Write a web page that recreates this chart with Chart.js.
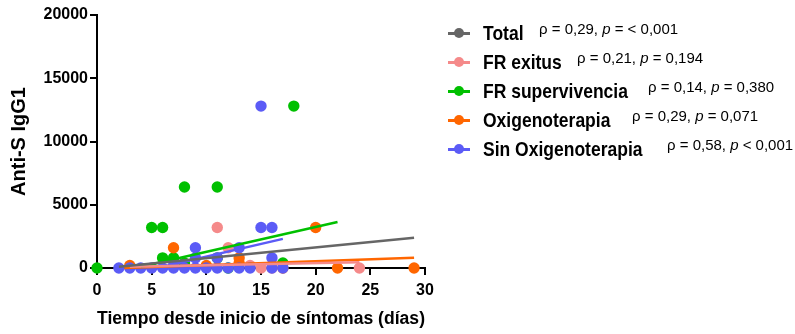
<!DOCTYPE html>
<html>
<head>
<meta charset="utf-8">
<script src="https://cdn.jsdelivr.net/npm/chart.js@4.4.1/dist/chart.umd.min.js"></script>
<style>
  html, body { margin: 0; padding: 0; background: #fff; }
  #wrap { position: relative; width: 795px; height: 334px; overflow: hidden; }
  #c { position: absolute; left: 0; top: 0; }
  .sym-line { position: absolute; height: 3px; width: 22px; }
  .sym-dot { position: absolute; width: 10px; height: 10px; border-radius: 50%; }
  .lab { position: absolute; font-family: 'Liberation Sans', Arial, sans-serif; font-weight: bold; font-size: 17.5px; line-height: 1; color: #000; white-space: nowrap; transform: scaleY(1.15); transform-origin: 0 50%; }
  .stat { position: absolute; font-family: 'Liberation Sans', Arial, sans-serif; font-size: 15px; line-height: 1; color: #000; white-space: nowrap; }
</style>
</head>
<body>
<div id="wrap">
  <canvas id="c" width="795" height="334"></canvas>
  <div id="legend"></div>
</div>
<script>
// ---- Data ----
const seriesNames = ['Total', 'FR exitus', 'FR supervivencia', 'Oxigenoterapia', 'Sin Oxigenoterapia'];
const seriesStats = [
  'ρ = 0,29, <i>p</i> = &lt; 0,001',
  'ρ = 0,21, <i>p</i> = 0,194',
  'ρ = 0,14, <i>p</i> = 0,380',
  'ρ = 0,29, <i>p</i> = 0,071',
  'ρ = 0,58, <i>p</i> &lt; 0,001'
];
const seriesColors = ['#666666', '#F58A8A', '#00C000', '#FF6600', '#5B5BF6'];

const exitusX = [11, 12, 14, 15, 16, 24];
const exitusY = [3200, 1600, 200, 0, 0, 0];

const superX = [0, 5, 6, 6, 7, 8, 8, 11, 11, 12, 17, 18];
const superY = [0, 3200, 3200, 800, 800, 400, 6400, 6400, 800, 0, 400, 12800];

const oxiX = [3, 7, 10, 13, 13, 17, 20, 22, 29];
const oxiY = [200, 1600, 200, 800, 400, 0, 3200, 0, 0];

const sinX = [2, 3, 4, 5, 6, 7, 7, 8, 9, 9, 9, 10, 11, 11, 12, 13, 13, 14, 15, 15, 16, 16, 16, 17];
const sinY = [0, 0, 0, 0, 0, 0, 200, 0, 0, 800, 1600, 0, 0, 800, 0, 0, 1600, 0, 3200, 12800, 0, 800, 3200, 0];

// regression line endpoints
const fitTotalX = [2, 29],   fitTotalY = [100, 2400];
const fitExitusX = [3, 24],  fitExitusY = [100, 450];
const fitSuperX = [4, 22],   fitSuperY = [100, 3640];
const fitOxiX = [2.5, 29],   fitOxiY = [0, 820];
const fitSinX = [5.5, 17],   fitSinY = [0, 2300];

const xTicks = [0, 5, 10, 15, 20, 25, 30];
const yTicks = [0, 5000, 10000, 15000, 20000];

// ---- Build datasets ----
const pts = (xs, ys) => xs.map((x, i) => ({ x: x, y: ys[i] }));
function scatterDs(xs, ys, color, order) {
  return { type: 'scatter', data: pts(xs, ys), backgroundColor: color, borderWidth: 0,
           pointRadius: 5.7, pointHoverRadius: 5.7, clip: false, order: order, showLine: false };
}
function lineDs(xs, ys, color, order) {
  return { type: 'scatter', data: pts(xs, ys), borderColor: color, backgroundColor: color,
           borderWidth: 2.5, pointRadius: 0, showLine: true, clip: false, order: order };
}

const datasets = [
  lineDs(fitTotalX, fitTotalY, seriesColors[0], 1),
  lineDs(fitExitusX, fitExitusY, seriesColors[1], 2),
  lineDs(fitSuperX, fitSuperY, seriesColors[2], 3),
  lineDs(fitOxiX, fitOxiY, seriesColors[3], 4),
  lineDs(fitSinX, fitSinY, seriesColors[4], 5),
  scatterDs(sinX, sinY, seriesColors[4], 6),
  scatterDs(exitusX, exitusY, seriesColors[1], 7),
  scatterDs(oxiX, oxiY, seriesColors[3], 8),
  scatterDs(superX, superY, seriesColors[2], 9)
];

const FONT = "'Liberation Sans', Arial, sans-serif";

new Chart(document.getElementById('c'), {
  type: 'scatter',
  data: { datasets: datasets },
  options: {
    responsive: false,
    animation: false,
    events: [],
    layout: { padding: { left: 0, top: 15, right: 370, bottom: 0 } },
    plugins: { legend: { display: false }, tooltip: { enabled: false } },
    scales: {
      x: {
        type: 'linear', min: 0, max: 30,
        afterBuildTicks: (s) => { s.ticks = xTicks.map(v => ({ value: v })); },
        afterFit: (s) => { s.height = 66; },
        ticks: { color: '#000', font: { family: FONT, size: 16, weight: 'bold' }, padding: 6,
                 callback: (v) => String(v) },
        grid: { display: true, drawOnChartArea: false, drawTicks: true, tickLength: 7, color: '#000', lineWidth: 2 },
        border: { display: true, color: '#000', width: 2 },
        title: { display: true, text: 'Tiempo desde inicio de síntomas (días)', color: '#000',
                 font: { family: FONT, size: 18, weight: 'bold' }, padding: { top: 0, bottom: 4 } }
      },
      y: {
        type: 'linear', min: 0, max: 20000,
        afterBuildTicks: (s) => { s.ticks = yTicks.map(v => ({ value: v })); },
        afterFit: (s) => { s.width = 97; },
        ticks: { color: '#000', font: { family: FONT, size: 16, weight: 'bold' }, padding: 2,
                 callback: (v) => String(v) },
        grid: { display: true, drawOnChartArea: false, drawTicks: true, tickLength: 7, color: '#000', lineWidth: 2 },
        border: { display: true, color: '#000', width: 2 },
        title: { display: true, text: 'Anti-S IgG1', color: '#000',
                 font: { family: FONT, size: 20, weight: 'bold' }, padding: { top: 7, bottom: 0 } }
      }
    }
  }
});

// ---- Legend (HTML text) ----
const rowY = [33, 62, 91, 120, 149];
const statX = [539, 577, 648, 632, 667];
const leg = document.getElementById('legend');
seriesNames.forEach((name, i) => {
  const y = rowY[i];
  const ln = document.createElement('div');
  ln.className = 'sym-line';
  ln.style.left = '448px'; ln.style.top = (y - 1.5) + 'px'; ln.style.background = seriesColors[i];
  leg.appendChild(ln);
  const dot = document.createElement('div');
  dot.className = 'sym-dot';
  dot.style.left = '454px'; dot.style.top = (y - 5) + 'px'; dot.style.background = seriesColors[i];
  leg.appendChild(dot);
  const lab = document.createElement('div');
  lab.className = 'lab';
  lab.style.left = '483px'; lab.style.top = (y - 8.5) + 'px';
  lab.textContent = name;
  leg.appendChild(lab);
  const st = document.createElement('div');
  st.className = 'stat';
  st.style.left = statX[i] + 'px'; st.style.top = (y - 11.7) + 'px';
  st.innerHTML = seriesStats[i];
  leg.appendChild(st);
});
</script>
</body>
</html>
